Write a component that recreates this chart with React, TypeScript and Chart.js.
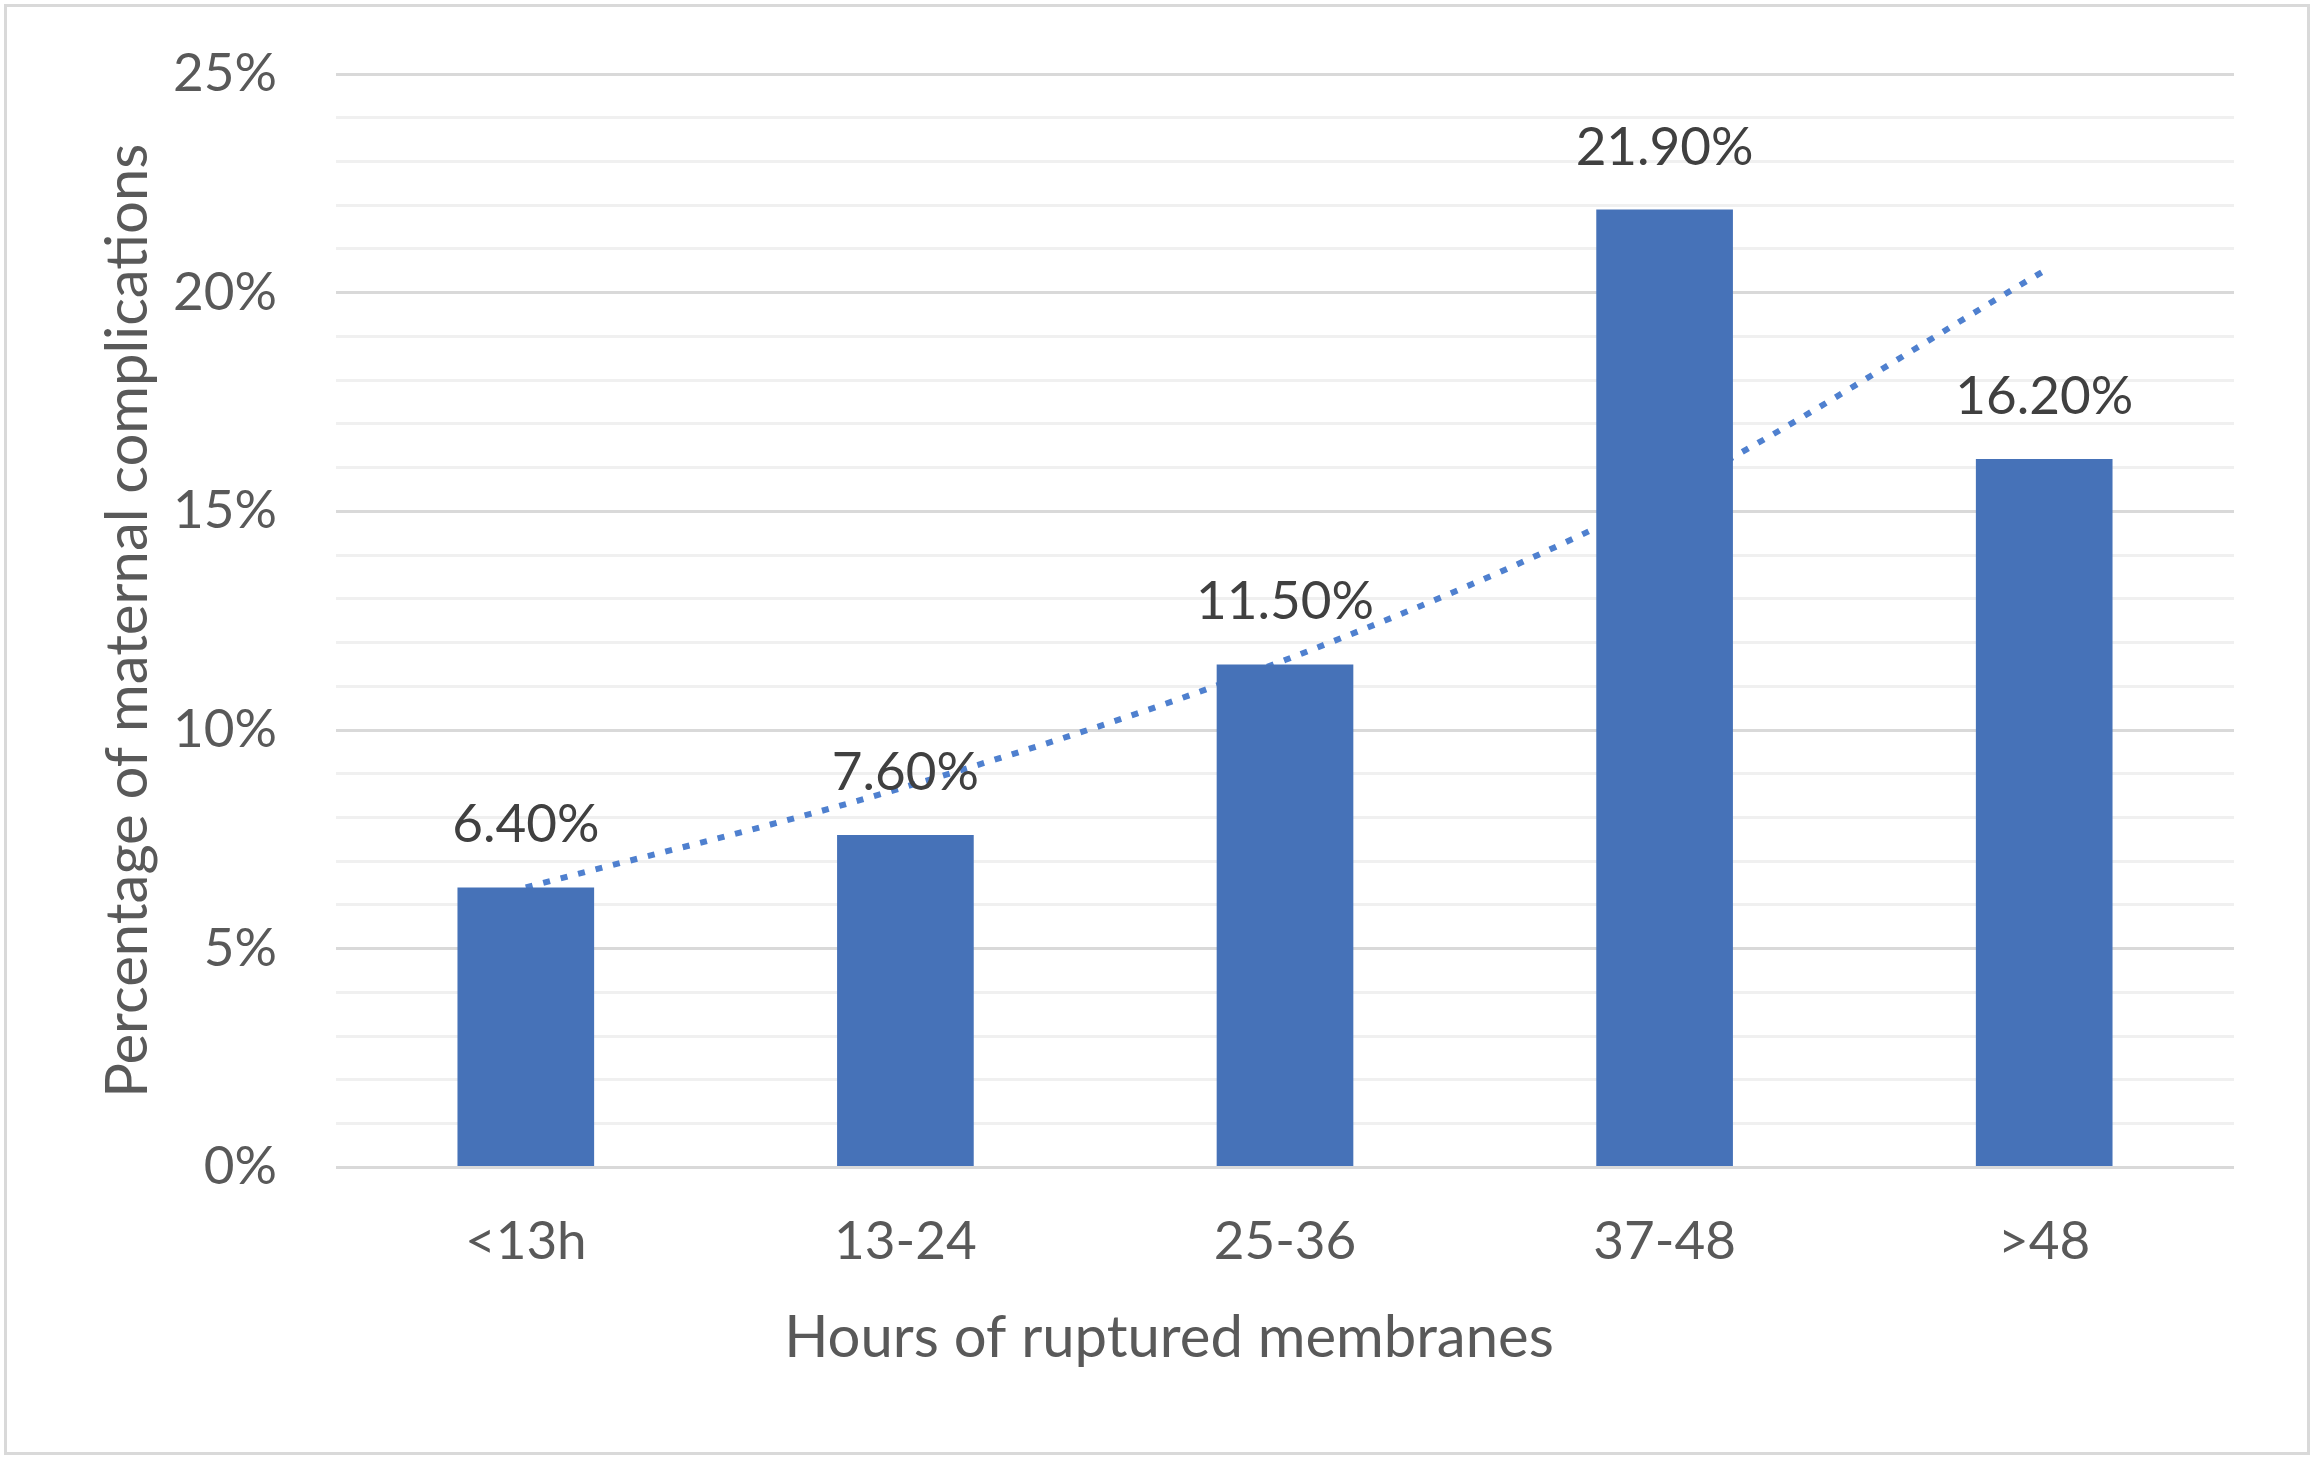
import React, { useEffect, useRef } from 'react';
import { Chart, registerables } from 'chart.js';

Chart.register(...registerables);

const categories = ['<13h', '13-24', '25-36', '37-48', '>48'];
const complicationPct = [6.4, 7.6, 11.5, 21.9, 16.2];
const valueLabels = ['6.40%', '7.60%', '11.50%', '21.90%', '16.20%'];
const trendPct = [6.4, 8.7, 11.6, 15.4, 20.5];
const yMin = 0;
const yMax = 25;
const yMajorStep = 5;
const xTitle = 'Hours of ruptured membranes';
const yTitle = 'Percentage of maternal complications';

const W = 2312;
const H = 1459;
const FONT = 'Lato, "Open Sans", sans-serif';

const valueLabelPlugin = {
  id: 'valueLabels',
  afterDatasetsDraw(chart: any) {
    const meta = chart.getDatasetMeta(0);
    const ctx = chart.ctx;
    ctx.save();
    ctx.font = `53px ${FONT}`;
    ctx.fillStyle = '#404040';
    ctx.textAlign = 'center';
    ctx.textBaseline = 'alphabetic';
    meta.data.forEach((el: any, i: number) => {
      ctx.fillText(valueLabels[i], el.x, el.y - 45);
    });
    ctx.restore();
  },
};

export default function App() {
  const ref = useRef<HTMLCanvasElement | null>(null);

  useEffect(() => {
    if (!ref.current) return;
    const chart = new Chart(ref.current, {
      type: 'bar',
      data: {
        labels: categories,
        datasets: [
          {
            type: 'bar',
            data: complicationPct,
            backgroundColor: '#4672B8',
            borderWidth: 0,
            barPercentage: 0.72,
            categoryPercentage: 0.5,
            order: 0,
          } as any,
          {
            type: 'line',
            data: trendPct,
            borderColor: '#4F80CF',
            borderWidth: 6,
            borderDash: [7, 11],
            borderCapStyle: 'butt',
            pointRadius: 0,
            fill: false,
            cubicInterpolationMode: 'monotone',
            order: 1,
          } as any,
        ],
      },
      options: {
        animation: false,
        responsive: false,
        devicePixelRatio: 1,
        layout: { padding: { left: 104, right: 78, top: 74, bottom: 0 } },
        plugins: {
          legend: { display: false },
          tooltip: { enabled: false },
          title: {
            display: true,
            text: xTitle,
            position: 'bottom',
            color: '#595959',
            font: { family: FONT, size: 58, weight: 'normal', lineHeight: 1.2 },
            padding: { top: 0, bottom: 86 },
          },
        },
        scales: {
          x: {
            grid: { display: false },
            border: { display: false },
            ticks: {
              color: '#595959',
              font: { family: FONT, size: 53 },
              padding: 35,
              maxRotation: 0,
            },
            afterFit: (scale: any) => {
              scale.height = 136;
            },
          },
          y: {
            min: yMin,
            max: yMax,
            border: { display: false },
            grid: {
              drawTicks: false,
              lineWidth: 3,
              color: (c: any) =>
                c.tick && c.tick.value % yMajorStep === 0 ? '#d9d9d9' : '#f0f0f0',
            },
            ticks: {
              stepSize: 1,
              autoSkip: false,
              color: '#595959',
              font: { family: FONT, size: 53 },
              padding: 59,
              callback: (v: any) => (Number(v) % yMajorStep === 0 ? `${v}%` : ''),
            },
            title: {
              display: true,
              text: yTitle,
              color: '#595959',
              font: { family: FONT, size: 58, lineHeight: 0.85 },
              padding: { top: 0, bottom: 0 },
            },
            afterFit: (scale: any) => {
              scale.width = 232;
              scale.paddingTop = 0;
              scale.paddingBottom = 0;
            },
          },
        },
      },
      plugins: [valueLabelPlugin],
    } as any);
    return () => chart.destroy();
  }, []);

  return (
    <div style={{ position: 'fixed', left: 0, top: 0, width: W, height: H, background: '#ffffff' }}>
      <canvas ref={ref} width={W} height={H} style={{ width: W, height: H, display: 'block' }} />
      <div
        style={{
          position: 'absolute',
          left: 4,
          top: 4,
          width: 2306,
          height: 1451,
          boxSizing: 'border-box',
          border: '3px solid #d9d9d9',
          pointerEvents: 'none',
        }}
      />
    </div>
  );
}
